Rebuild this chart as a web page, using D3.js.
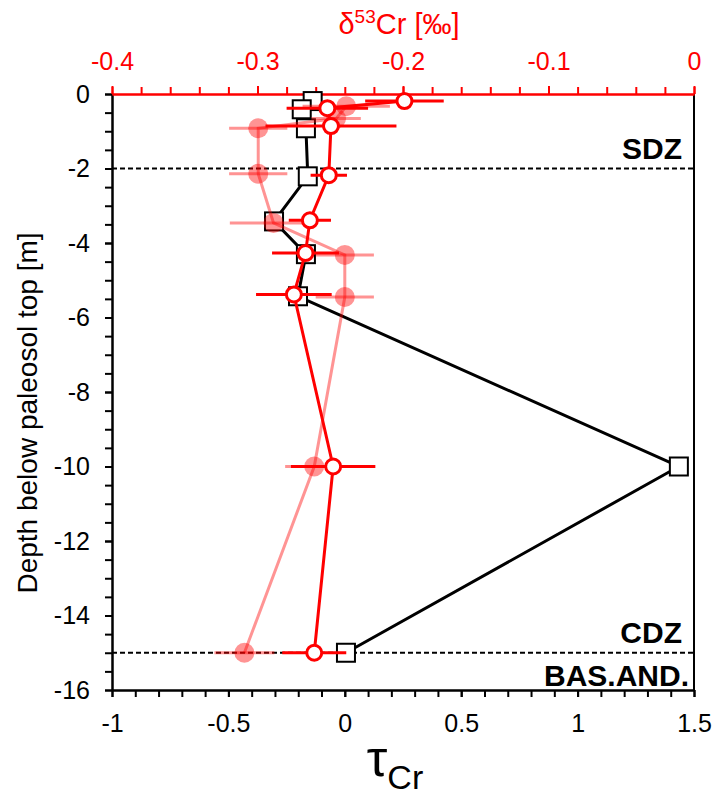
<!DOCTYPE html>
<html>
<head>
<meta charset="utf-8">
<script src="https://cdn.jsdelivr.net/npm/d3@7"></script>
<style>
body{margin:0;background:#fff;}
text{font-family:Arial,"Liberation Sans",sans-serif;}
</style>
</head>
<body>
<script>
// tau_Cr (bottom axis), black squares
var depthTau=[-0.19,-0.41,-0.92,-2.21,-3.42,-4.30,-5.43,-10,-15];
var tauCr=[-0.138,-0.185,-0.167,-0.159,-0.304,-0.167,-0.201,1.435,0.005];
// d53Cr (top axis), open red circles
var depthD53=[-0.19,-0.38,-0.86,-2.18,-3.39,-4.27,-5.38,-10,-15];
var d53Cr=[-0.199,-0.252,-0.2495,-0.251,-0.264,-0.267,-0.275,-0.248,-0.261];
var d53Err=[0.027,0.028,0.045,0.0125,0.0145,0.023,0.026,0.029,0.022];
// d53Cr second set, light filled circles
var depthD53b=[-0.33,-0.66,-0.92,-2.14,-3.46,-4.32,-5.45,-10,-15];
var d53CrB=[-0.239,-0.246,-0.2995,-0.2995,-0.289,-0.240,-0.240,-0.261,-0.309];
var d53ErrB=[0.03,0.017,0.02,0.02,0.03,0.02,0.02,0.02,0.0206];

var xTicks=[-1,-0.5,0,0.5,1,1.5];
var topTicks=[-0.4,-0.3,-0.2,-0.1,0];
var yTicks=[0,-2,-4,-6,-8,-10,-12,-14,-16];
var zones=[{d:-2,label:"SDZ",pos:"above"},{d:-15,label:"CDZ",pos:"above"},{d:-15,label:"BAS.AND.",pos:"below"}];

var W=712,H=801;
var L=112,R=694,T=94,B=690;
var red="#ff0000";

var svg=d3.select("body").append("svg").attr("width",W).attr("height",H);

var x=d3.scaleLinear().domain([-1,1.5]).range([L,R]);
var xt=d3.scaleLinear().domain([-0.4,0]).range([L,R]);
var y=d3.scaleLinear().domain([0,-16]).range([T,B]);

// dashed zone boundaries
svg.selectAll(".zline").data([-2,-15]).enter().append("line")
  .attr("x1",L).attr("x2",R)
  .attr("y1",function(d){return y(d)}).attr("y2",function(d){return y(d)})
  .attr("stroke","#000").attr("stroke-width",2).attr("stroke-dasharray","5,3");

svg.selectAll(".zlab").data(zones).enter().append("text")
  .attr("x",function(d){return d.label=="BAS.AND."?R-5:R-12})
  .attr("y",function(d){return d.pos=="above"?y(d.d)-10:y(d.d)+33})
  .attr("text-anchor","end").attr("font-weight","bold").attr("font-size",30)
  .text(function(d){return d.label});

// axes
function styleAxis(g,col){
  g.select(".domain").attr("stroke",col).attr("stroke-width",2);
  g.selectAll(".tick line").attr("stroke",col).attr("stroke-width",2);
  g.selectAll(".tick text").attr("fill",col).attr("font-size",25)
   .attr("font-family","Arial,'Liberation Sans',sans-serif");
}
var fmt=function(d){return String(d)};

var minorB=d3.range(-1,1.5001,0.1).map(function(d){return +d.toFixed(2)});
svg.append("g").attr("transform","translate(0,"+B+")")
  .call(d3.axisBottom(x).tickValues(minorB).tickSize(7).tickFormat("").tickSizeOuter(0))
  .call(function(g){styleAxis(g,"#000")});
svg.append("g").attr("transform","translate(0,"+B+")")
  .call(d3.axisBottom(x).tickValues(xTicks).tickSize(7).tickPadding(17).tickFormat(fmt).tickSizeOuter(0))
  .call(function(g){styleAxis(g,"#000")});

var minorL=d3.range(0,-16.001,-0.5);
svg.append("g").attr("transform","translate("+L+",0)")
  .call(d3.axisLeft(y).tickValues(minorL).tickSize(7).tickFormat("").tickSizeOuter(0))
  .call(function(g){styleAxis(g,"#000")});
svg.append("g").attr("transform","translate("+L+",0)")
  .call(d3.axisLeft(y).tickValues(yTicks).tickSize(7).tickPadding(15).tickFormat(fmt).tickSizeOuter(0))
  .call(function(g){styleAxis(g,"#000")});

// right border
svg.append("line").attr("x1",R).attr("x2",R).attr("y1",T).attr("y2",B)
  .attr("stroke","#000").attr("stroke-width",2);

var minorT=d3.range(-0.4,0.0001,0.02).map(function(d){return +d.toFixed(2)});
svg.append("g").attr("transform","translate(0,"+T+")")
  .call(d3.axisTop(xt).tickValues(minorT).tickSize(7).tickFormat("").tickSizeOuter(0))
  .call(function(g){styleAxis(g,red)});
svg.append("g").attr("transform","translate(0,"+T+")")
  .call(d3.axisTop(xt).tickValues(topTicks).tickSize(8).tickPadding(16).tickFormat(fmt).tickSizeOuter(0))
  .call(function(g){styleAxis(g,red)});

// axis titles
svg.append("text").attr("transform","translate(37,413) rotate(-90)")
  .attr("text-anchor","middle").attr("font-size",28)
  .text("Depth below paleosol top [m]");

var tt=svg.append("text").attr("x",399).attr("y",34).attr("text-anchor","middle")
  .attr("fill",red).attr("font-size",29);
tt.append("tspan").text("δ");
tt.append("tspan").attr("font-size",19).attr("dy",-11).text("53");
tt.append("tspan").attr("dy",11).text("Cr [‰]");

var bt=svg.append("text").attr("x",395).attr("y",776).attr("text-anchor","middle")
  .attr("font-size",52);
bt.append("tspan").text("τ");
bt.append("tspan").attr("font-size",34).attr("dy",13).text("Cr");

// black squares series
var sq=tauCr.map(function(v,i){return [x(v),y(depthTau[i])]});
svg.append("path").attr("d",d3.line()(sq)).attr("fill","none")
  .attr("stroke","#000").attr("stroke-width",3);
svg.selectAll(".sq").data(sq).enter().append("rect")
  .attr("x",function(d){return d[0]-9}).attr("y",function(d){return d[1]-9})
  .attr("width",18).attr("height",18)
  .attr("fill","#fff").attr("stroke","#000").attr("stroke-width",2);

// light filled circles series
var lb=d53CrB.map(function(v,i){return {x:xt(v),y:y(depthD53b[i]),x1:xt(v-d53ErrB[i]),x2:xt(v+d53ErrB[i])}});
var gl=svg.append("g").attr("opacity",0.42);
gl.append("path").attr("d",d3.line().x(function(d){return d.x}).y(function(d){return d.y})(lb))
  .attr("fill","none").attr("stroke",red).attr("stroke-width",3);
lb.forEach(function(d){
  svg.append("line").attr("x1",d.x1).attr("x2",d.x2).attr("y1",d.y).attr("y2",d.y)
    .attr("stroke",red).attr("stroke-width",3).attr("opacity",0.42);
  svg.append("circle").attr("cx",d.x).attr("cy",d.y).attr("r",10)
    .attr("fill",red).attr("opacity",0.42);
});

// open red circles series
var oc=d53Cr.map(function(v,i){return {x:xt(v),y:y(depthD53[i]),x1:xt(v-d53Err[i]),x2:xt(v+d53Err[i])}});
svg.append("path").attr("d",d3.line().x(function(d){return d.x}).y(function(d){return d.y})(oc))
  .attr("fill","none").attr("stroke",red).attr("stroke-width",3);
svg.selectAll(".eb").data(oc).enter().append("line")
  .attr("x1",function(d){return d.x1}).attr("x2",function(d){return d.x2})
  .attr("y1",function(d){return d.y}).attr("y2",function(d){return d.y})
  .attr("stroke",red).attr("stroke-width",3);
svg.selectAll(".oc").data(oc).enter().append("circle")
  .attr("cx",function(d){return d.x}).attr("cy",function(d){return d.y}).attr("r",7.5)
  .attr("fill","#fff").attr("stroke",red).attr("stroke-width",3);
</script>
</body>
</html>
